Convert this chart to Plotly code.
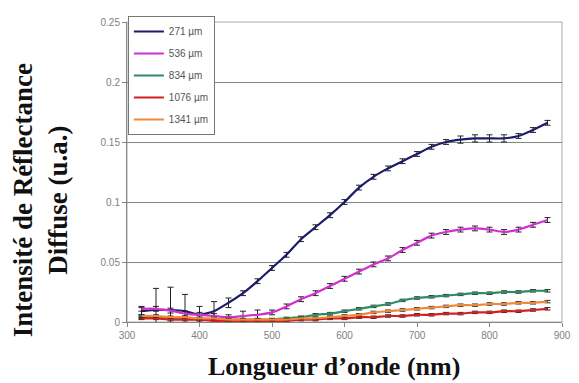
import plotly.graph_objects as go

wavelength = [320, 340, 360, 380, 400, 420, 440, 460, 480, 500, 520, 540, 560, 580, 600,
              620, 640, 660, 680, 700, 720, 740, 760, 780, 800, 820, 840, 860, 880]

s271 = [0.009, 0.010, 0.010, 0.009, 0.006, 0.009, 0.016, 0.024, 0.034, 0.045, 0.056, 0.069, 0.079, 0.089, 0.100,
        0.112, 0.121, 0.128, 0.134, 0.140, 0.146, 0.150, 0.152, 0.153, 0.153, 0.153, 0.155, 0.160, 0.166]
e271 = [0.003, 0.018, 0.019, 0.014, 0.007, 0.008, 0.004, 0.002, 0.002, 0.002, 0.002, 0.002, 0.002, 0.002, 0.002,
        0.002, 0.002, 0.002, 0.002, 0.002, 0.002, 0.002, 0.003, 0.003, 0.003, 0.003, 0.002, 0.002, 0.002]

s536 = [0.011, 0.011, 0.0095, 0.007, 0.006, 0.005, 0.004, 0.005, 0.006, 0.008, 0.013, 0.019, 0.024, 0.030, 0.036,
        0.042, 0.048, 0.053, 0.060, 0.066, 0.072, 0.075, 0.077, 0.078, 0.077, 0.075, 0.077, 0.081, 0.085]
e536 = [0.002] * 7 + [0.004, 0.004] + [0.002] * 20

s834 = [0.004, 0.004, 0.003, 0.003, 0.002, 0.002, 0.002, 0.002, 0.002, 0.002, 0.003, 0.004, 0.006, 0.007, 0.009,
        0.011, 0.013, 0.015, 0.018, 0.020, 0.021, 0.022, 0.023, 0.024, 0.024, 0.025, 0.025, 0.026, 0.026]
e834 = [0.001] * 29

s1076 = [0.003, 0.003, 0.002, 0.002, 0.002, 0.001, 0.001, 0.001, 0.001, 0.001, 0.001, 0.002, 0.002, 0.003, 0.003,
         0.004, 0.004, 0.005, 0.005, 0.006, 0.006, 0.007, 0.007, 0.008, 0.008, 0.009, 0.009, 0.010, 0.011]
e1076 = [0.001] * 29

s1341 = [0.005, 0.005, 0.004, 0.004, 0.003, 0.003, 0.002, 0.002, 0.002, 0.002, 0.002, 0.003, 0.003, 0.004, 0.005,
         0.006, 0.008, 0.009, 0.010, 0.011, 0.012, 0.013, 0.014, 0.014, 0.015, 0.015, 0.016, 0.016, 0.017]
e1341 = [0.001] * 29

series = [
    ("271 µm", s271, e271, "#1c1c6a"),
    ("536 µm", s536, e536, "#d030d0"),
    ("834 µm", s834, e834, "#2e8b62"),
    ("1076 µm", s1076, e1076, "#d42020"),
    ("1341 µm", s1341, e1341, "#f08838"),
]

x_title = "Longueur d’onde (nm)"
y_title = "Intensité de Réflectance<br>Diffuse (u.a.)"

fig = go.Figure()
for i, (name, ys, es, col) in enumerate(series):
    fig.add_trace(go.Scatter(
        x=wavelength, y=ys, name=name, mode="lines",
        line=dict(color=col, width=2.2, shape="spline", smoothing=0.6),
        error_y=dict(type="data", array=es, visible=True, color="#222222", thickness=1, width=3),
        legendgroup=str(i),
    ))

# page body has an 8px margin, so the figure is 8px smaller and shifted
fig.update_layout(
    width=571, height=375,
    margin=dict(l=119, r=13, t=8, b=61),
    paper_bgcolor="white", plot_bgcolor="white",
    showlegend=True,
    legend=dict(x=0.002, y=1.02, xanchor="left", yanchor="top",
                bgcolor="white", bordercolor="#777777", borderwidth=1,
                font=dict(family="Liberation Sans", size=10, color="#555555"),
                tracegroupgap=3, itemwidth=30),
    xaxis=dict(range=[300, 900], dtick=100, tick0=300,
               showline=True, linecolor="#888888", linewidth=1,
               ticks="outside", ticklen=4, tickcolor="#888888",
               showgrid=False, zeroline=False,
               tickfont=dict(family="Liberation Sans", size=10, color="#808080")),
    yaxis=dict(range=[0, 0.25], dtick=0.05,
               showline=True, linecolor="#888888", linewidth=1,
               ticks="outside", ticklen=4, tickcolor="#888888",
               showgrid=True, gridcolor="#858585", gridwidth=1, zeroline=False,
               tickfont=dict(family="Liberation Sans", size=10, color="#808080")),
    annotations=[
        dict(text="<b>" + x_title + "</b>", xref="paper", yref="paper",
             x=0.477, y=-0.147, xanchor="center", yanchor="middle", showarrow=False,
             font=dict(family="Liberation Serif", size=26, color="#111111")),
        dict(text="<b>" + y_title + "</b>", xref="paper", yref="paper",
             x=-0.198, y=0.405, xanchor="center", yanchor="middle", showarrow=False,
             textangle=-90,
             font=dict(family="Liberation Serif", size=27, color="#111111")),
    ],
)
fig.add_shape(type="rect", xref="paper", yref="paper", x0=0, y0=0, x1=1, y1=1,
              line=dict(color="#aaaaaa", width=1), layer="below")

fig.write_html("out.html")
